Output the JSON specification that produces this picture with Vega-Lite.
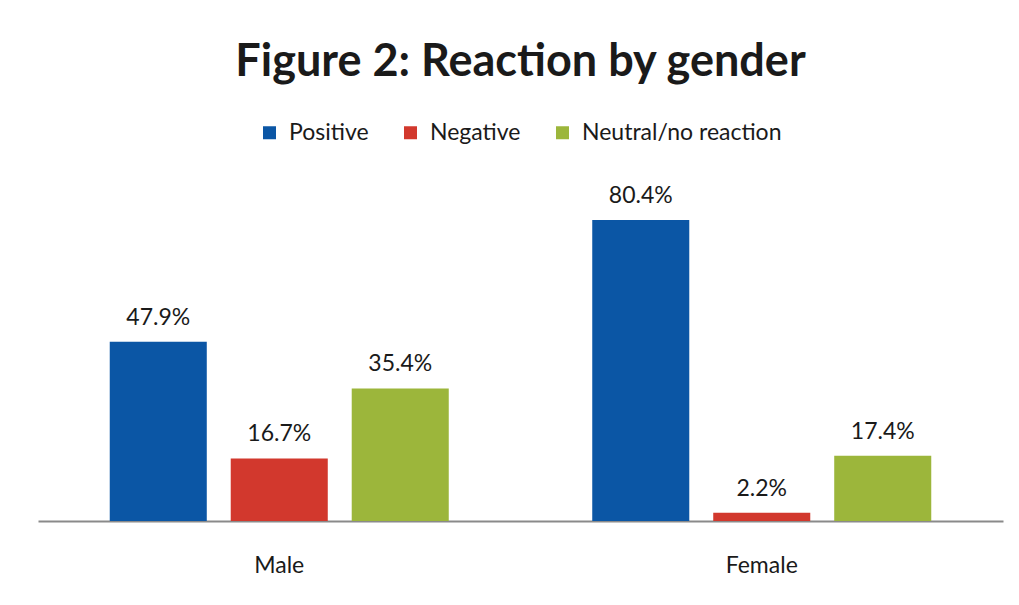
{
  "$schema": "https://vega.github.io/schema/vega-lite/v6.json",
  "width": 965,
  "height": 337,
  "autosize": "none",
  "padding": {"left": 38, "top": 184, "right": 16, "bottom": 84},
  "background": "white",
  "title": {
    "text": "Figure 2: Reaction by gender",
    "font": "Lato",
    "fontSize": 45,
    "fontWeight": "bold",
    "color": "#1a1a1a",
    "anchor": "middle",
    "offset": 36
  },
  "data": {
    "values": [
      {"gender": "Male", "reaction": "Positive", "share": 0.479},
      {"gender": "Male", "reaction": "Negative", "share": 0.167},
      {"gender": "Male", "reaction": "Neutral/no reaction", "share": 0.354},
      {"gender": "Female", "reaction": "Positive", "share": 0.804},
      {"gender": "Female", "reaction": "Negative", "share": 0.022},
      {"gender": "Female", "reaction": "Neutral/no reaction", "share": 0.174}
    ]
  },
  "encoding": {
    "x": {
      "field": "gender",
      "type": "nominal",
      "sort": ["Male", "Female"],
      "scale": {"paddingInner": 0, "paddingOuter": 0},
      "axis": {
        "title": null,
        "labelAngle": 0,
        "labelFont": "Lato",
        "labelFontSize": 23,
        "labelColor": "#1a1a1a",
        "labelPadding": 33,
        "ticks": false,
        "domainColor": "#8a8a8a",
        "domainWidth": 2,
        "grid": false
      }
    },
    "xOffset": {
      "field": "reaction",
      "type": "nominal",
      "sort": ["Positive", "Negative", "Neutral/no reaction"],
      "scale": {"paddingInner": 0.198, "paddingOuter": 0.593}
    },
    "y": {
      "field": "share",
      "type": "quantitative",
      "scale": {"domain": [0, 0.9]},
      "axis": null
    }
  },
  "layer": [
    {
      "mark": {"type": "bar"},
      "encoding": {
        "color": {
          "field": "reaction",
          "type": "nominal",
          "sort": ["Positive", "Negative", "Neutral/no reaction"],
          "scale": {
            "domain": ["Positive", "Negative", "Neutral/no reaction"],
            "range": ["#0b56a5", "#d2382d", "#9cb63b"]
          },
          "legend": {
            "title": null,
            "orient": "none",
            "direction": "horizontal",
            "legendX": 220,
            "legendY": -63,
            "symbolType": "square",
            "symbolSize": 169,
            "symbolStrokeWidth": 0,
            "labelFont": "Lato",
            "labelFontSize": 23,
            "labelColor": "#1a1a1a",
            "labelOffset": 8,
            "labelLimit": 400,
            "columnPadding": 30
          }
        }
      }
    },
    {
      "mark": {
        "type": "text",
        "baseline": "alphabetic",
        "dy": -17,
        "font": "Lato",
        "fontSize": 23,
        "color": "#1a1a1a"
      },
      "encoding": {
        "text": {"field": "share", "type": "quantitative", "format": ".1%"}
      }
    }
  ],
  "config": {
    "view": {"stroke": null}
  }
}
